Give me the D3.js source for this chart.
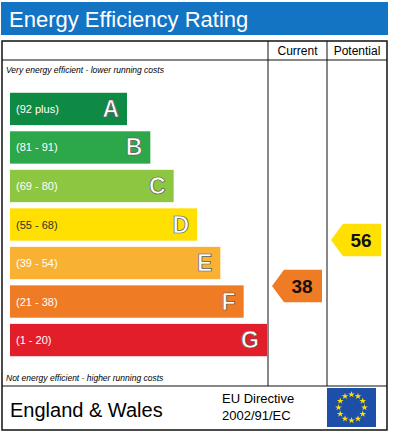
<!DOCTYPE html><html><head><meta charset="utf-8"><script src="https://cdn.jsdelivr.net/npm/d3@7"></script>
<style>body{margin:0;background:#fff}text{font-family:"Liberation Sans",Arial,sans-serif}</style></head><body><svg id="c" width="403" height="437"></svg>
<script>
const bands=["A","B","C","D","E","F","G"];
const ranges=["(92 plus)","(81 - 91)","(69 - 80)","(55 - 68)","(39 - 54)","(21 - 38)","(1 - 20)"];
const colors=["#0f8a45","#2ca84b","#8dc641","#ffe000","#f8b133","#ef7b24","#e21e2b"];
const currentValue=38, potentialValue=56;
const bandMin=[92,81,69,55,39,21,1];
const svg=d3.select("#c");
svg.append("rect").attr("x",1).attr("y",2).attr("width",387).attr("height",33).attr("fill","#1474c4");
svg.append("text").attr("x",9).attr("y",27).attr("fill","#fff").attr("font-size",22).text("Energy Efficiency Rating");
const g=svg.append("g").attr("fill","none").attr("stroke","#111");
g.append("rect").attr("x",2).attr("y",41).attr("width",385).attr("height",389).attr("stroke-width",1.5);
g.append("line").attr("x1",2).attr("x2",387).attr("y1",60).attr("y2",60);
g.append("line").attr("x1",2).attr("x2",387).attr("y1",386).attr("y2",386);
g.append("line").attr("x1",268).attr("x2",268).attr("y1",41).attr("y2",386);
g.append("line").attr("x1",327).attr("x2",327).attr("y1",41).attr("y2",386);
svg.append("text").attr("x",297.5).attr("y",55).attr("text-anchor","middle").attr("font-size",12).text("Current");
svg.append("text").attr("x",357).attr("y",55).attr("text-anchor","middle").attr("font-size",12).text("Potential");
svg.append("text").attr("x",6).attr("y",73).attr("font-size",8.5).attr("font-style","italic").text("Very energy efficient - lower running costs");
svg.append("text").attr("x",6).attr("y",381).attr("font-size",8.5).attr("font-style","italic").text("Not energy efficient - higher running costs");
const y=d3.scaleBand().domain(bands).range([92,357]).paddingInner(0.16).paddingOuter(0.02);
const w=d3.scaleLinear().domain([0,6]).range([117,257]);
const yv=d3.scaleLinear().domain([56,38]).range([240,286]);
const bg=svg.selectAll("g.b").data(bands).join("g");
bg.append("rect").attr("x",10).attr("y",d=>y(d)).attr("width",(d,i)=>w(i)).attr("height",y.bandwidth()).attr("fill",(d,i)=>colors[i]);
bg.append("text").attr("x",16).attr("y",d=>y(d)+y.bandwidth()/2+4).attr("font-size",11).attr("fill",(d,i)=>i==3?"#333":"#fff").text((d,i)=>ranges[i]);
bg.append("text").attr("x",(d,i)=>10+w(i)-8).attr("y",d=>y(d)+y.bandwidth()/2+8).attr("text-anchor","end").attr("font-size",23).attr("font-weight",900).attr("fill","#fff").attr("stroke","#555").attr("stroke-width",0.7).text(d=>d);
function band(v){return bandMin.findIndex(m=>v>=m);}
function arrow(v,x0,x1){const i=band(v),c=yv(v),h=y.bandwidth(),t=c-h/2;
 svg.append("path").attr("d",`M${x0},${c} L${x0+12},${t} L${x1},${t} L${x1},${t+h} L${x0+12},${t+h} Z`).attr("fill",colors[i]);
 svg.append("text").attr("x",(x0+x1)/2+5).attr("y",c+7).attr("text-anchor","middle").attr("font-size",19).attr("font-weight","bold").attr("fill","#111").text(v);}
arrow(currentValue,272,322);
arrow(potentialValue,331,381);
svg.append("text").attr("x",10).attr("y",417).attr("font-size",20).text("England & Wales");
svg.append("text").attr("x",222).attr("y",403).attr("font-size",13).text("EU Directive");
svg.append("text").attr("x",222).attr("y",420).attr("font-size",13).text("2002/91/EC");
svg.append("rect").attr("x",327).attr("y",388).attr("width",49).attr("height",39).attr("fill","#1d4fa8");
const stars=d3.range(12).map(k=>k*30);
const star=d3.symbol(d3.symbolStar,14);
svg.selectAll("path.s").data(stars).join("path").attr("d",star).attr("transform",d=>`translate(${351.5+13*Math.sin(d*Math.PI/180)},${407.5-13*Math.cos(d*Math.PI/180)})`).attr("fill","#ffe000");
</script></body></html>
